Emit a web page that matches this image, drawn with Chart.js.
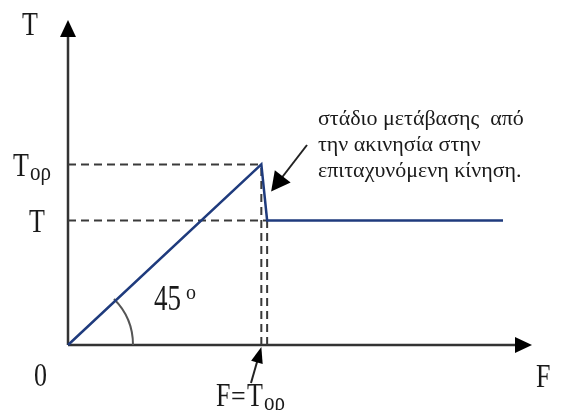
<!DOCTYPE html>
<html>
<head>
<meta charset="utf-8">
<script src="https://cdn.jsdelivr.net/npm/chart.js@4"></script>
<style>
  html, body { margin: 0; padding: 0; background: #fff; }
  #wrap { width: 565px; height: 410px; }
</style>
</head>
<body>
<div id="wrap"><canvas id="chart"></canvas></div>
<script>
// Friction T versus applied force F
const forceF = [0, 10, 10.3, 22.5];
const frictionT = [0, 10, 6.9, 6.9];
const staticMax = 10;    // Tορ
const kineticT = 6.9;    // T
const axisMaxF = 24;
const axisMaxT = 18;
const noteLines = ['στάδιο μετάβασης  από', 'την ακινησία στην', 'επιταχυνόμενη κίνηση.'];

const serif = '"Liberation Serif", "DejaVu Serif", serif';
const ink = '#1a1a1a';

const curve = forceF.map((f, i) => ({ x: f, y: frictionT[i] }));
const guide = (pts) => ({
    data: pts,
    borderColor: '#3a3a3a',
    borderWidth: 2,
    borderDash: [8, 5],
    pointRadius: 0,
    clip: false
});

function arrowHead(ctx, x, y, angle, len, half) {
    ctx.save();
    ctx.translate(x, y);
    ctx.rotate(angle);
    ctx.beginPath();
    ctx.moveTo(0, 0);
    ctx.lineTo(-len, -half);
    ctx.lineTo(-len, half);
    ctx.closePath();
    ctx.fill();
    ctx.restore();
}

function arrow(ctx, x0, y0, x1, y1, len, half) {
    const a = Math.atan2(y1 - y0, x1 - x0);
    ctx.beginPath();
    ctx.moveTo(x0, y0);
    ctx.lineTo(x1 - Math.cos(a) * len * 0.8, y1 - Math.sin(a) * len * 0.8);
    ctx.stroke();
    arrowHead(ctx, x1, y1, a, len, half);
}

// serif text, stretched vertically a little like the symbols of the figure
function label(ctx, str, x, y, size, sy = 1.3) {
    ctx.save();
    ctx.font = size + 'px ' + serif;
    ctx.translate(x, y);
    ctx.scale(1, sy);
    ctx.fillText(str, 0, 0);
    const w = ctx.measureText(str).width;
    ctx.restore();
    return w;
}

// T with a subscript ορ, baseline at y
function tSub(ctx, x, y) {
    const w = label(ctx, 'T', x, y, 26);
    label(ctx, 'ορ', x + w + 1, y + 4, 21, 1.15);
}

const axesPlugin = {
    id: 'axesPlugin',
    beforeDatasetsDraw(chart) {
        const { ctx, scales: { x, y } } = chart;
        const ox = x.getPixelForValue(0), oy = y.getPixelForValue(0);
        const xEnd = x.getPixelForValue(axisMaxF), yEnd = y.getPixelForValue(axisMaxT);
        ctx.save();
        ctx.strokeStyle = '#333';
        ctx.fillStyle = '#000';
        ctx.lineWidth = 2.5;
        arrow(ctx, ox, oy, ox, yEnd, 17, 8);
        arrow(ctx, ox, oy, xEnd, oy, 17, 8);

        // 45 degree arc
        ctx.strokeStyle = '#555';
        ctx.lineWidth = 2;
        ctx.beginPath();
        ctx.arc(ox, oy, 65, -Math.PI / 4, 0);
        ctx.stroke();
        ctx.restore();
    },
    afterDatasetsDraw(chart) {
        const { ctx, scales: { x, y } } = chart;
        const oy = y.getPixelForValue(0);
        ctx.save();
        ctx.fillStyle = ink;
        ctx.textBaseline = 'alphabetic';
        ctx.textAlign = 'left';

        label(ctx, 'T', 22, 35, 26);
        label(ctx, '0', 34, 386, 26);
        label(ctx, 'F', 536, 387, 26);
        label(ctx, 'T', 29, y.getPixelForValue(kineticT) + 12, 26);
        tSub(ctx, 13, y.getPixelForValue(staticMax) + 12);

        label(ctx, '45', 154, 310, 27);
        label(ctx, 'o', 186, 299, 20, 1.05);

        // F = Tορ under the axis
        label(ctx, 'F', 216, 406, 26);
        label(ctx, '=', 231, 406, 26, 1.1);
        tSub(ctx, 247, 406);

        ctx.font = '22px ' + serif;
        noteLines.forEach((t, i) => ctx.fillText(t, 318, 125 + i * 26));

        ctx.strokeStyle = '#222';
        ctx.fillStyle = '#000';
        ctx.lineWidth = 2;
        const px = x.getPixelForValue(forceF[2]);
        arrow(ctx, 307, 145, px + 4, y.getPixelForValue(8.5), 19, 10);
        const fx = x.getPixelForValue(forceF[1]);
        arrow(ctx, 251, 383, fx, oy + 2, 16, 6);
        ctx.restore();
    }
};

new Chart(document.getElementById('chart'), {
    type: 'line',
    data: {
        datasets: [
            {
                data: curve,
                borderColor: '#1f3b7d',
                borderWidth: 2.5,
                pointRadius: 0,
                tension: 0,
                clip: false
            },
            guide([{ x: 0, y: staticMax }, { x: forceF[1], y: staticMax }]),
            guide([{ x: 0, y: kineticT }, { x: forceF[2], y: kineticT }]),
            guide([{ x: forceF[1], y: 0 }, { x: forceF[1], y: staticMax }]),
            guide([{ x: forceF[2], y: 0 }, { x: forceF[2], y: kineticT }])
        ]
    },
    options: {
        responsive: true,
        maintainAspectRatio: false,
        animation: false,
        layout: { padding: { left: 68, right: 33, top: 20, bottom: 65 } },
        scales: {
            x: { type: 'linear', min: 0, max: axisMaxF, display: false },
            y: { type: 'linear', min: 0, max: axisMaxT, display: false }
        },
        plugins: {
            legend: { display: false },
            tooltip: { enabled: false }
        }
    },
    plugins: [axesPlugin]
});
</script>
</body>
</html>
